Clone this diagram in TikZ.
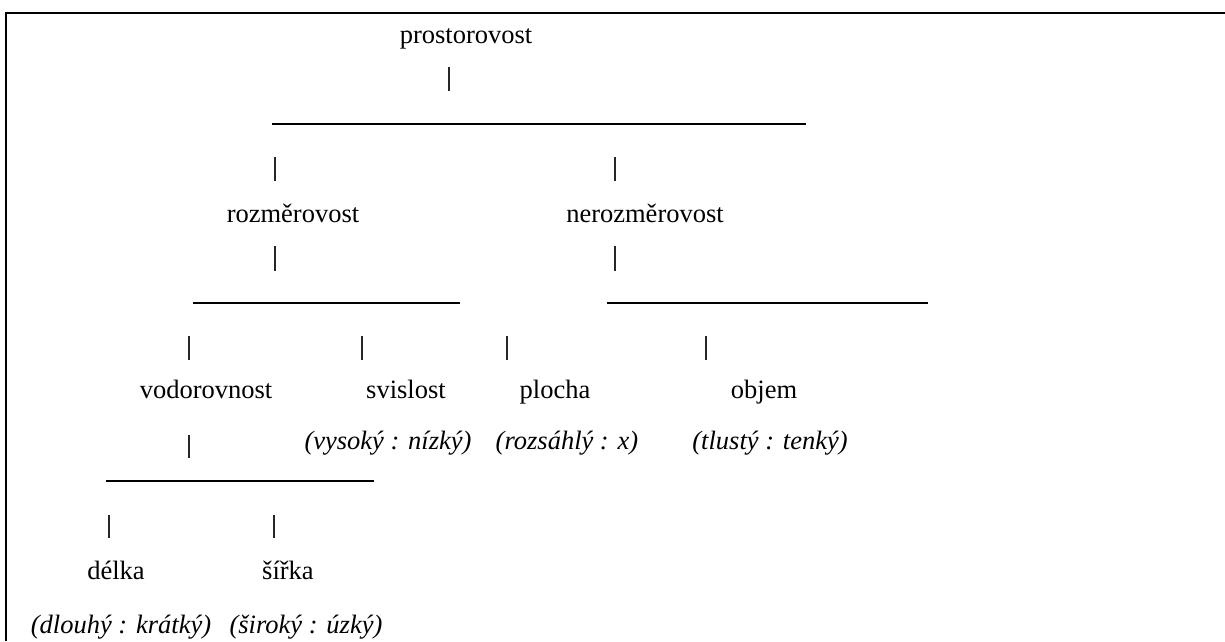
\documentclass[tikz,border=0pt]{standalone}
\usepackage{fontspec}
\setmainfont{Liberation Serif}
\begin{document}
\begin{tikzpicture}[x=1pt,y=-1pt,
  word/.style={anchor=base,inner sep=0pt,font=\fontsize{26.5}{30}\selectfont},
  pair/.style={word,font=\fontsize{26.5}{30}\selectfont\itshape},
  vbar/.style={line width=1.1pt,draw=black!85},
  uline/.style={line width=1.7pt},
  frame/.style={line width=2.3pt}]
\useasboundingbox (0,0) rectangle (1225,641);
% frame (left and top sides)
\coordinate (fa) at (6,641);
\coordinate (fb) at (6,13);
\coordinate (fc) at (1225,13);
\draw[frame] (fa) -- (fb) -- (fc);
% words
\node[word] (root) at (466,43) {prostorovost};
\node[word] (roz) at (293,222) {rozměrovost};
\node[word] (neroz) at (645,222) {nerozměrovost};
\node[word] (vod) at (206,398) {vodorovnost};
\node[word] (svis) at (406,398) {svislost};
\node[word] (plo) at (555,398) {plocha};
\node[word] (obj) at (764,398) {objem};
\node[pair] (svisp) at (388,449) {(vysoký : nízký)};
\node[pair] (plop) at (567,449) {(rozsáhlý : x)};
\node[pair] (objp) at (770,449) {(tlustý : tenký)};
\node[word] (del) at (116,579) {délka};
\node[word] (sir) at (288,579) {šířka};
\node[pair] (delp) at (121,633) {(dlouhý : krátký)};
\node[pair] (sirp) at (306,633) {(široký : úzký)};
% vertical bars
\foreach \n/\x/\ya/\yb in {b0/449/67/91, b1/275/157/181, b2/615/157/181,
  b3/275/246/271, b4/615/246/271, b5/189/336/360, b6/362/336/360,
  b7/507/336/360, b8/706/336/360, b9/189/435/458, b10/109/515/538,
  b11/274/515/538}{
  \coordinate (\n t) at (\x,\ya);
  \coordinate (\n b) at (\x,\yb);
  \draw[vbar] (\n t) -- (\n b);
}
% horizontal rules
\foreach \n/\xa/\xb/\y in {u1/272/806/124, u2/193/460/303, u3/607/928/303,
  u4/106/374/481}{
  \coordinate (\n l) at (\xa,\y);
  \coordinate (\n r) at (\xb,\y);
  \draw[uline] (\n l) -- (\n r);
}
\end{tikzpicture}
\end{document}
